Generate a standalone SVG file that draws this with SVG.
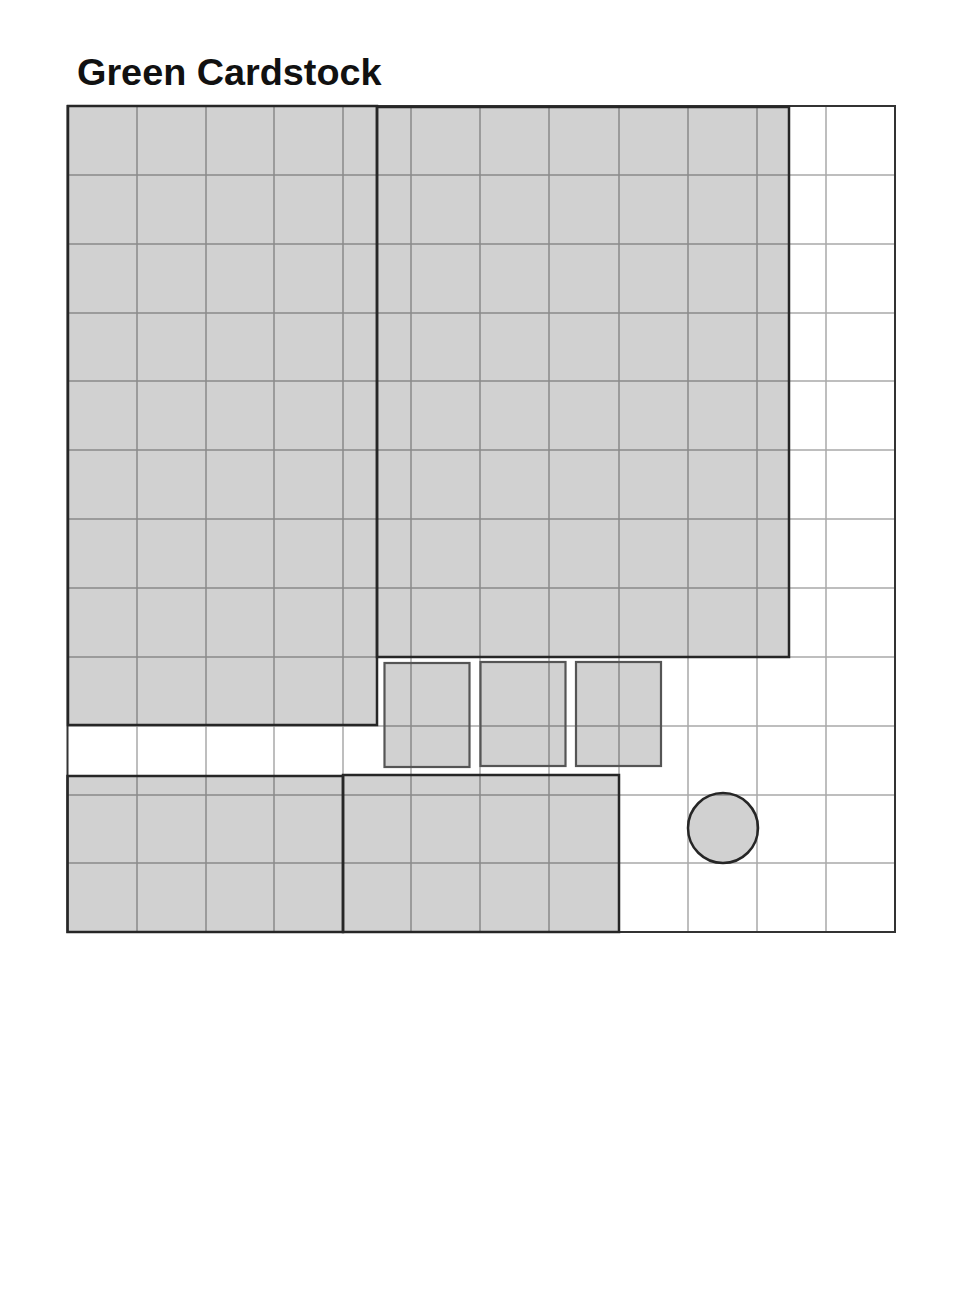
<svg xmlns="http://www.w3.org/2000/svg" width="980" height="1308" viewBox="0 0 980 1308">
<style>
.grid line{stroke:#a8a8a8;stroke-width:1.5}
.piece{fill:#000;fill-opacity:0.18;stroke:#262626;stroke-width:2.5}
.small{stroke:#555;stroke-width:2.2}
.title{font-family:"Liberation Sans",Arial,sans-serif;font-weight:bold;font-size:37.8px;fill:#111}
</style>
<rect x="0" y="0" width="980" height="1308" fill="#fff"/>
<text class="title" x="77" y="85">Green Cardstock</text>
<g id="grid" class="grid">
<line x1="137" y1="106" x2="137" y2="932"/>
<line x1="206" y1="106" x2="206" y2="932"/>
<line x1="274" y1="106" x2="274" y2="932"/>
<line x1="343" y1="106" x2="343" y2="932"/>
<line x1="411" y1="106" x2="411" y2="932"/>
<line x1="480" y1="106" x2="480" y2="932"/>
<line x1="549" y1="106" x2="549" y2="932"/>
<line x1="619" y1="106" x2="619" y2="932"/>
<line x1="688" y1="106" x2="688" y2="932"/>
<line x1="757" y1="106" x2="757" y2="932"/>
<line x1="826" y1="106" x2="826" y2="932"/>
<line x1="67" y1="175" x2="895" y2="175"/>
<line x1="67" y1="244" x2="895" y2="244"/>
<line x1="67" y1="313" x2="895" y2="313"/>
<line x1="67" y1="381" x2="895" y2="381"/>
<line x1="67" y1="450" x2="895" y2="450"/>
<line x1="67" y1="519" x2="895" y2="519"/>
<line x1="67" y1="588" x2="895" y2="588"/>
<line x1="67" y1="657" x2="895" y2="657"/>
<line x1="67" y1="726" x2="895" y2="726"/>
<line x1="67" y1="795" x2="895" y2="795"/>
<line x1="67" y1="863" x2="895" y2="863"/>
</g>
<rect id="sheet" x="67.5" y="106" width="827.5" height="826" fill="none" stroke="#333" stroke-width="2"/>
<g id="pieces">
<rect id="piece-a" class="piece" x="68" y="106" width="309" height="619"/>
<rect id="piece-b" class="piece" x="377" y="107" width="412" height="550"/>
<rect id="piece-c" class="piece small" x="384.5" y="663" width="85" height="104"/>
<rect id="piece-d" class="piece small" x="480.5" y="662" width="85" height="104"/>
<rect id="piece-e" class="piece small" x="576" y="662" width="85" height="104"/>
<rect id="piece-f" class="piece" x="67.5" y="776" width="275.5" height="156"/>
<rect id="piece-g" class="piece" x="343" y="775" width="276" height="157"/>
<circle id="piece-h" class="piece" cx="723" cy="828" r="35"/>
</g>
</svg>
